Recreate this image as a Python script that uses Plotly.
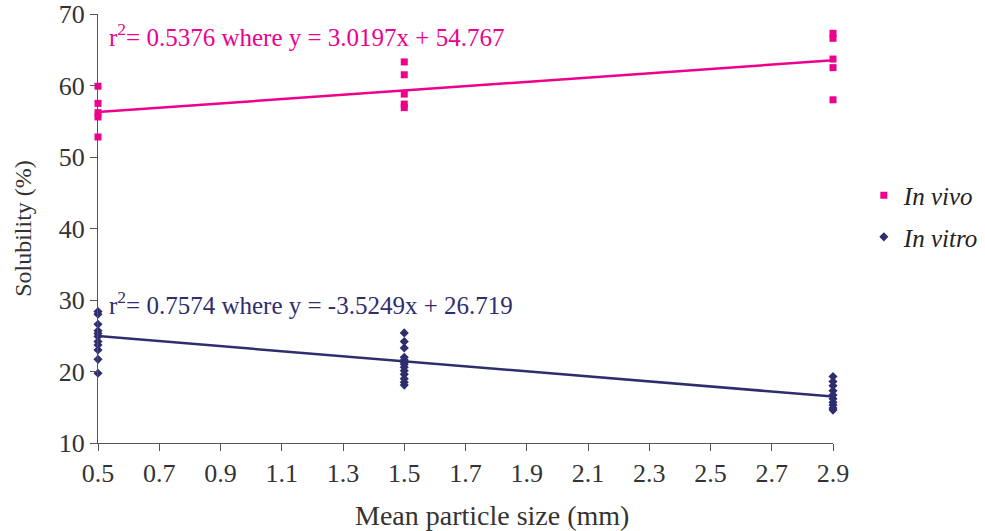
import plotly.graph_objects as go

# Measured solubility (%) at each mean particle size (mm)
vivo_x = [0.5] * 5 + [1.5] * 5 + [2.9] * 5
vivo_y = [59.9, 57.5, 56.2, 55.6, 52.8,
          63.3, 61.5, 58.8, 57.4, 56.9,
          67.3, 66.6, 63.7, 62.5, 58.0]

vitro_x = [0.5] * 11 + [1.5] * 13 + [2.9] * 10
vitro_y = [28.4, 28.0, 26.6, 25.7, 25.3, 24.9, 24.2, 23.7, 23.0, 21.7, 19.75,
           25.4, 24.2, 23.3, 22.0, 21.6, 21.3, 21.0, 20.6, 20.1, 19.6, 19.0, 18.5, 18.1,
           19.3, 18.6, 18.0, 17.3, 16.7, 16.2, 15.7, 15.3, 14.9, 14.6]

# Linear fits: (slope, intercept, r^2)
vivo_fit = (3.0197, 54.767, 0.5376)
vitro_fit = (-3.5249, 26.719, 0.7574)
fit_x = [0.5, 2.9]

x_ticks = [0.5, 0.7, 0.9, 1.1, 1.3, 1.5, 1.7, 1.9, 2.1, 2.3, 2.5, 2.7, 2.9]
y_ticks = [10, 20, 30, 40, 50, 60, 70]

PINK = "#EC008C"
NAVY = "#2E2E6E"
SERIF = "Liberation Serif"

fig = go.Figure()

fig.add_trace(go.Scatter(
    x=fit_x, y=[vivo_fit[0] * v + vivo_fit[1] for v in fit_x],
    mode="lines", line=dict(color=PINK, width=2.5), showlegend=False,
    cliponaxis=False, hoverinfo="skip"))
fig.add_trace(go.Scatter(
    x=fit_x, y=[vitro_fit[0] * v + vitro_fit[1] for v in fit_x],
    mode="lines", line=dict(color=NAVY, width=2.5), showlegend=False,
    cliponaxis=False, hoverinfo="skip"))

fig.add_trace(go.Scatter(
    x=vivo_x, y=vivo_y, mode="markers", name="<i>In vivo</i>",
    legendgroup="vivo",
    marker=dict(symbol="square", size=7, color=PINK), cliponaxis=False))
fig.add_trace(go.Scatter(
    x=vitro_x, y=vitro_y, mode="markers", name="<i>In vitro</i>",
    legendgroup="vitro",
    marker=dict(symbol="diamond", size=7, color=NAVY), cliponaxis=False))

fig.add_annotation(
    x=0, xref="paper", xanchor="left", xshift=9, y=67.0, yanchor="middle",
    text="r<sup>2</sup>= %.4f where y = %.4fx + %.3f" % (vivo_fit[2], vivo_fit[0], vivo_fit[1]),
    showarrow=False, font=dict(family=SERIF, size=25, color=PINK))
fig.add_annotation(
    x=0, xref="paper", xanchor="left", xshift=9, y=29.6, yanchor="middle",
    text="r<sup>2</sup>= %.4f where y = %.4fx + %.3f" % (vitro_fit[2], vitro_fit[0], vitro_fit[1]),
    showarrow=False, font=dict(family=SERIF, size=25, color=NAVY))

# X-axis title, centred under the chart area
fig.add_annotation(
    x=0.5, xref="paper", xshift=26, y=0, yref="paper", yshift=-72,
    xanchor="center", yanchor="middle", showarrow=False,
    text="Mean particle size (mm)",
    font=dict(family=SERIF, size=28, color="#333333"))

axis_common = dict(
    showline=True, linecolor="#555555", linewidth=1.2, ticks="outside",
    ticklen=7, tickcolor="#555555", showgrid=False, zeroline=False,
    automargin=False,
    tickfont=dict(family=SERIF, size=26, color="#333333"),
)

fig.update_xaxes(
    range=[0.5, 2.9], tickvals=x_ticks, ticktext=["%.1f" % t for t in x_ticks],
    **axis_common)
fig.update_yaxes(
    range=[10, 70], tickvals=y_ticks,
    title=dict(text="Solubility (%)", font=dict(family=SERIF, size=24, color="#333333"),
               standoff=20),
    **axis_common)

fig.update_layout(
    width=985, height=531,
    margin=dict(l=98, r=152, t=14, b=88),
    plot_bgcolor="white", paper_bgcolor="white",
    legend=dict(xref="container", yref="container", x=0.877, y=0.593,
                xanchor="left", yanchor="middle",
                font=dict(family=SERIF, size=25, color="#222222"),
                tracegroupgap=6, bgcolor="rgba(0,0,0,0)"),
)

fig.write_html("out.html")
